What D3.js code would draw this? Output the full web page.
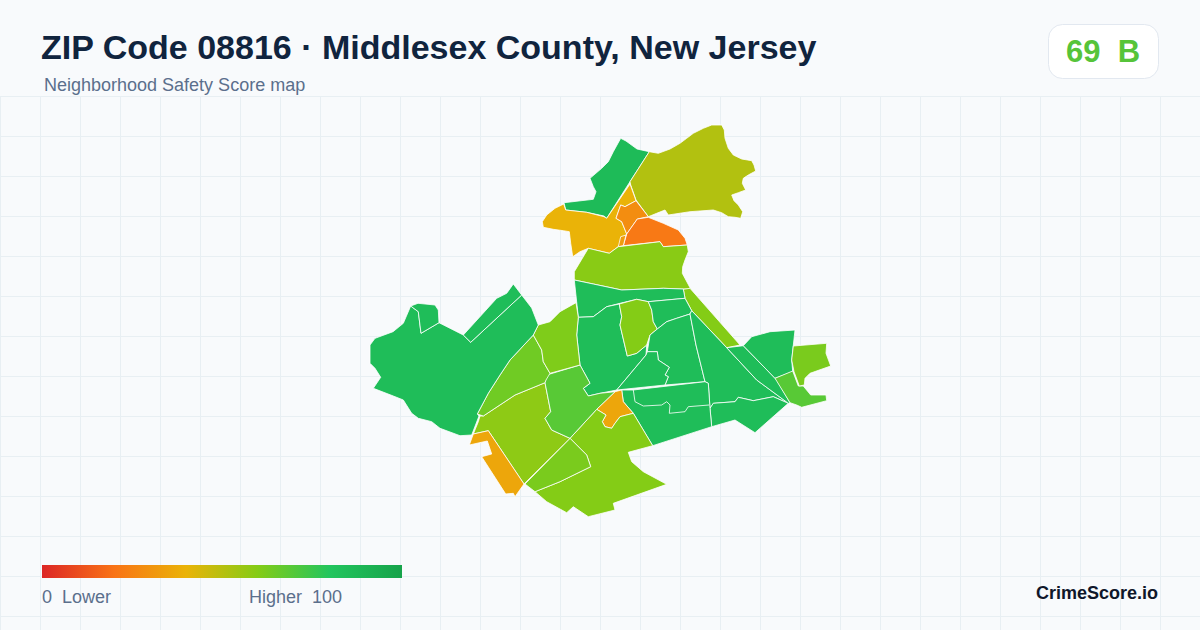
<!DOCTYPE html>
<html>
<head>
<meta charset="utf-8">
<script src="https://cdn.jsdelivr.net/npm/d3@7"></script>
<style>
	html, body { margin: 0; padding: 0; background: #f8fafc; }
	svg { display: block; font-family: "Liberation Sans", Arial, sans-serif; }
</style>
</head>
<body>
<div id="chart"></div>
<script>
const width = 1200, height = 630;

const titleText = "ZIP Code 08816 · Middlesex County, New Jersey";
const subtitleText = "Neighborhood Safety Score map";
const zipScore = "69", zipGrade = "B";

// colour ramp of the legend
const rampStops = [0, 20, 40, 60, 80, 100];
const rampColours = ["#dc2626", "#f97316", "#eab308", "#84cc16", "#22c55e", "#16a34a"];

// score of each census tract
const tractScores = [
	86, 51, 40, 28, 22, 33, 59, 60, 85, 85, 60, 85, 85, 85, 85, 85, 85, 36, 60, 62,
	58, 69, 64, 61, 85, 85, 85, 85, 85, 69, 62,
];

// tract outlines, traced in map units
const tractRings = [
	[[564,202.7],[593.3,199.3],[596,191.7],[593.3,186.7],[590,178.3],[601.7,168.3],[608.3,161.7],[613.3,151.7],[620.7,138.3],[626,141],[637,149],[649.3,151.7],[630,181.7],[606.7,218.3],[604,216],[586.7,212.3],[565.7,210]],
	[[649.3,151.7],[658.3,153.3],[670,149],[680,143.3],[686.7,138.3],[693.3,133.3],[703.3,128.3],[711.7,125],[721.7,125],[724.3,130],[725,138.3],[728.3,148.3],[733.3,155],[741.7,159],[751.7,160.7],[754,165],[755.7,171],[748.3,175],[743.3,178.3],[742.3,183.3],[745.7,190],[738.3,192.7],[731.7,195],[734,200.7],[738.3,205],[742.7,211.7],[740.7,218.3],[735,217.3],[728.3,216.7],[721.7,212.7],[713.3,210],[690,211.7],[668.3,215],[665,210],[656.7,213.3],[648.3,216.7],[636,200],[630.7,185],[630,181.7]],
	[[563.7,204],[565.7,210],[586.7,212.3],[604,216.7],[606.7,218.3],[630,184],[636,200.7],[625,206.7],[620.7,205],[616,218.3],[621.7,221.7],[626.7,234],[618.3,246.7],[609.3,253.3],[588.3,248.3],[580,251.7],[572.7,256.7],[570.7,243.3],[569.3,231.7],[563.3,230.7],[553.3,229.3],[543.3,227.3],[542.3,221.7],[546.7,215],[555,208.3]],
	[[636,200.7],[648.3,216.7],[637.3,219],[626.7,234],[621.7,221.7],[616,218.3],[620.7,205],[625,206.7]],
	[[637.3,219],[648.3,217.3],[663.3,223.3],[678.3,230],[685,238.3],[687.3,245],[663.3,246.7],[660,241.7],[623.3,245.7],[626.7,234]],
	[[620.7,236.7],[626,235],[623.3,245.7],[618.3,246.7]],
	[[588.3,248.3],[609.3,253.3],[618.3,246.7],[660,241.7],[663.3,246.7],[687.3,245],[688.3,251.7],[685,260],[682.7,266.7],[682.3,273.3],[690.7,289],[681.7,289],[663.3,288.3],[621.7,290],[593.3,284],[574.3,280],[574.3,271.7]],
	[[683.3,289.3],[690,288.3],[740,345],[726.7,347.7],[691.7,310.7],[685,298.3]],
	[[574.3,280],[593.3,284],[621.7,290],[663.3,288.3],[683.3,289],[685,298.3],[648.3,301.7],[636.7,299.3],[620,303.3],[606.7,306.7],[593.3,316.7],[578.3,317.3]],
	[[578.3,317.3],[593.3,316.7],[606.7,306.7],[619.3,304],[621.7,316.7],[620,325],[627.3,356],[636.7,353.3],[646.7,345],[646,355],[616.7,390],[600,393.3],[588.3,396],[583.3,388.3],[590,383.3],[580,365],[576.7,335]],
	[[619.3,304],[636.7,299.3],[648.3,301.7],[651.7,310],[653.3,321.7],[657.3,329],[650,335],[646.7,345],[636.7,353.3],[627.3,356],[620,325],[621.7,316.7]],
	[[648.3,301.7],[685,298.3],[691.7,310.7],[690,314],[676.7,318.3],[666.7,321.7],[657.3,329],[653.3,321.7],[651.7,310]],
	[[657.3,329],[666.7,321.7],[676.7,318.3],[690,314],[696,345],[705,381.7],[665,385],[668.3,376.7],[665,375],[669.3,367.3],[658.3,360],[657.3,351.7],[647.3,351.7],[650,335]],
	[[647.3,351.7],[657.3,351.7],[658.3,360],[669.3,367.3],[665,375],[668.3,376.7],[665,385],[616.7,390],[646,355]],
	[[691.7,310.7],[726.7,347.7],[756.7,380],[788.3,403.3],[773.3,396.7],[753.3,400.7],[738.3,397.3],[735,401.7],[713.3,403.3],[710,408.3],[708.3,383.3],[705,381.7],[696,345],[690,314]],
	[[710,408.3],[713.3,403.3],[735,401.7],[738.3,397.3],[753.3,400.7],[773.3,396.7],[788.3,403.3],[755,432.7],[735,420],[711.7,426.7]],
	[[621.7,390],[633.3,390],[705,381.7],[708.3,383.3],[710,408.3],[711.7,426.7],[652.7,445.7],[633.3,413.3],[623.3,401.7]],
	[[621.7,390],[623.3,401.7],[633.3,413.3],[620,416.7],[615,423.3],[611.7,428.3],[605,426.7],[602.3,421.7],[606,415],[596.7,409.3],[615,391.7]],
	[[570,438.3],[596.7,409.3],[606,415],[602.3,421.7],[605,426.7],[611.7,428.3],[615,423.3],[620,416.7],[633.3,413.3],[652.7,445.7],[628.3,452.3],[631.7,461.7],[643.3,471.7],[666.7,484.3],[613.3,503.3],[615,510],[588.3,516.7],[573.3,506.7],[566.7,512.7],[546.7,501.7],[535,491.7],[560,481.7],[590.7,466.7],[586.7,455]],
	[[570,438.3],[586.7,455],[590.7,466.7],[560,481.7],[535,491.7],[525,484]],
	[[483.3,416],[515,395],[545,382.7],[550.7,411.7],[545,418.3],[551.7,430],[570,438.3],[524,484],[488.3,430.7],[473.3,434],[478.3,421.7],[480,416]],
	[[546.7,375],[580,365],[590,383.3],[583.3,388.3],[588.3,396],[600,393.3],[615,391.7],[596.7,409.3],[570,438.3],[551.7,430],[545,418.3],[550.7,411.7],[545,382.7]],
	[[533.3,335],[541.7,350],[543.3,361.7],[550,373.3],[546,380],[545,382.7],[515,395],[483.3,416],[477.3,414],[488.3,393.3],[500,375],[510,360]],
	[[533.3,335],[538.3,325],[550,321.7],[560,311.7],[576,302.7],[578.3,317.3],[576.7,335],[580,365],[550,373.3],[543.3,361.7],[541.7,350]],
	[[370,345],[375,338.3],[393,331.7],[403.3,323.3],[410.7,306],[418.3,311.7],[421,333.3],[439,322.7],[463.3,335],[470.7,342.3],[521.7,295],[531.7,308],[538.3,325],[533.3,335],[510,360],[500,375],[488.3,393.3],[477.3,414],[479,416],[471.7,435],[460,435.7],[440,428.3],[431.7,421.7],[418.3,418.3],[411.7,413.3],[403.3,400],[393.3,396],[373.3,388.3],[380.7,377.3],[375,368.3],[370,363.3]],
	[[410.7,306],[418,303.3],[435,305],[438.3,310],[439,322.7],[421,333.3],[418.3,311.7]],
	[[463.3,335],[496.7,298.3],[506.7,293.3],[513.3,284],[521.7,295],[470.7,342.3]],
	[[726.7,347.7],[743.3,345.7],[776.7,380],[790,402.7],[788.3,403.3],[756.7,380]],
	[[743.3,345.7],[751.7,336.7],[770,331.7],[795,330],[791.7,360],[792.7,371.7],[775,378.3]],
	[[775,378.3],[792.7,371],[798.3,386],[803.3,386],[810.7,395],[826,395],[826.7,400.7],[801.7,407.3],[796.7,405],[790,402.7]],
	[[793.3,346],[826.7,343.3],[826,353.3],[830.7,366],[810,373.3],[805,378.3],[804.3,385],[799.3,386],[794,371.7],[791.7,360]],
];

// line inside the southern tract, traced in map units
const innerLines = [
	[[633.3,390],[635,401.7],[643.3,406],[661.7,405],[666.7,401.7],[670,405],[669.3,413.3],[685,411.7],[688.3,406.7],[709,405]],
];

// the orange tract south west of the big one
const southWestRing = [[473.3,434],[488.3,430.7],[524,484],[515,496.7],[513.3,493.3],[505.7,494],[481.7,456.7],[491.7,454],[487.3,441],[469.3,445]];
const southWestScore = 36;

const svg = d3.select("#chart").append("svg").attr("width", width).attr("height", height);

svg.append("rect").attr("width", width).attr("height", height).attr("fill", "#f8fafc");

// background grid
const grid = svg.append("g").attr("stroke", "#e8eff3").attr("stroke-width", 1);
grid.selectAll("line.v")
	.data(d3.range(0.5, width, 40))
	.join("line")
	.attr("x1", (d) => d).attr("x2", (d) => d)
	.attr("y1", 96).attr("y2", height);
grid.selectAll("line.h")
	.data(d3.range(96.5, height, 40))
	.join("line")
	.attr("x1", 0).attr("x2", width)
	.attr("y1", (d) => d).attr("y2", (d) => d);

// header
svg.append("text").attr("x", 41).attr("y", 59)
	.attr("font-size", 34).attr("font-weight", 700).attr("fill", "#10243e").text(titleText);
svg.append("text").attr("x", 44).attr("y", 91)
	.attr("font-size", 18).attr("fill", "#5b6f8c").text(subtitleText);

svg.append("rect").attr("x", 1048.5).attr("y", 24.5).attr("width", 110).attr("height", 54).attr("rx", 14)
	.attr("fill", "#fff").attr("stroke", "#e2e8f0");
svg.append("text").attr("x", 1103).attr("y", 62).attr("text-anchor", "middle")
	.attr("font-size", 31).attr("font-weight", 700).attr("fill", "#56c43a")
	.style("white-space", "pre").text(zipScore + "  " + zipGrade);

// map
const x = d3.scaleLinear().domain([370, 831]).range([370, 831]);
const y = d3.scaleLinear().domain([125, 517]).range([125, 517]);
const colour = d3.scaleLinear().domain(rampStops).range(rampColours);
const ringPath = d3.line().x((d) => x(d[0])).y((d) => y(d[1]));

const allTracts = tractRings.map((ring, i) => ({ ring: ring, score: tractScores[i] }));
allTracts.push({ ring: southWestRing, score: southWestScore });

const map = svg.append("g");
map.selectAll("path.tract")
	.data(allTracts)
	.join("path")
	.attr("class", "tract")
	.attr("d", (d) => ringPath(d.ring) + "Z")
	.attr("fill", (d) => colour(d.score))
	.attr("stroke", "#fff")
	.attr("stroke-width", 0.8)
	.attr("stroke-linejoin", "round");
map.selectAll("path.inner")
	.data(innerLines)
	.join("path")
	.attr("class", "inner")
	.attr("d", ringPath)
	.attr("fill", "none")
	.attr("stroke", "#fff")
	.attr("stroke-width", 0.8);

// legend
const legendScale = d3.scaleLinear().domain([0, 100]).range([42, 402]);
const gradient = svg.append("defs").append("linearGradient").attr("id", "ramp");
gradient.selectAll("stop")
	.data(rampStops)
	.join("stop")
	.attr("offset", (d) => d + "%")
	.attr("stop-color", (d) => colour(d));
svg.append("rect")
	.attr("x", legendScale(0)).attr("y", 565)
	.attr("width", legendScale(100) - legendScale(0)).attr("height", 13)
	.attr("fill", "url(#ramp)");
svg.append("text").attr("x", 42).attr("y", 603).attr("font-size", 18).attr("fill", "#5b6f8c")
	.style("white-space", "pre").text("0  Lower");
svg.append("text").attr("x", 249).attr("y", 603).attr("font-size", 18).attr("fill", "#5b6f8c")
	.style("white-space", "pre").text("Higher  100");

svg.append("text").attr("x", 1158).attr("y", 599).attr("text-anchor", "end")
	.attr("font-size", 18).attr("font-weight", 700).attr("fill", "#0f172a").text("CrimeScore.io");
</script>
</body>
</html>
